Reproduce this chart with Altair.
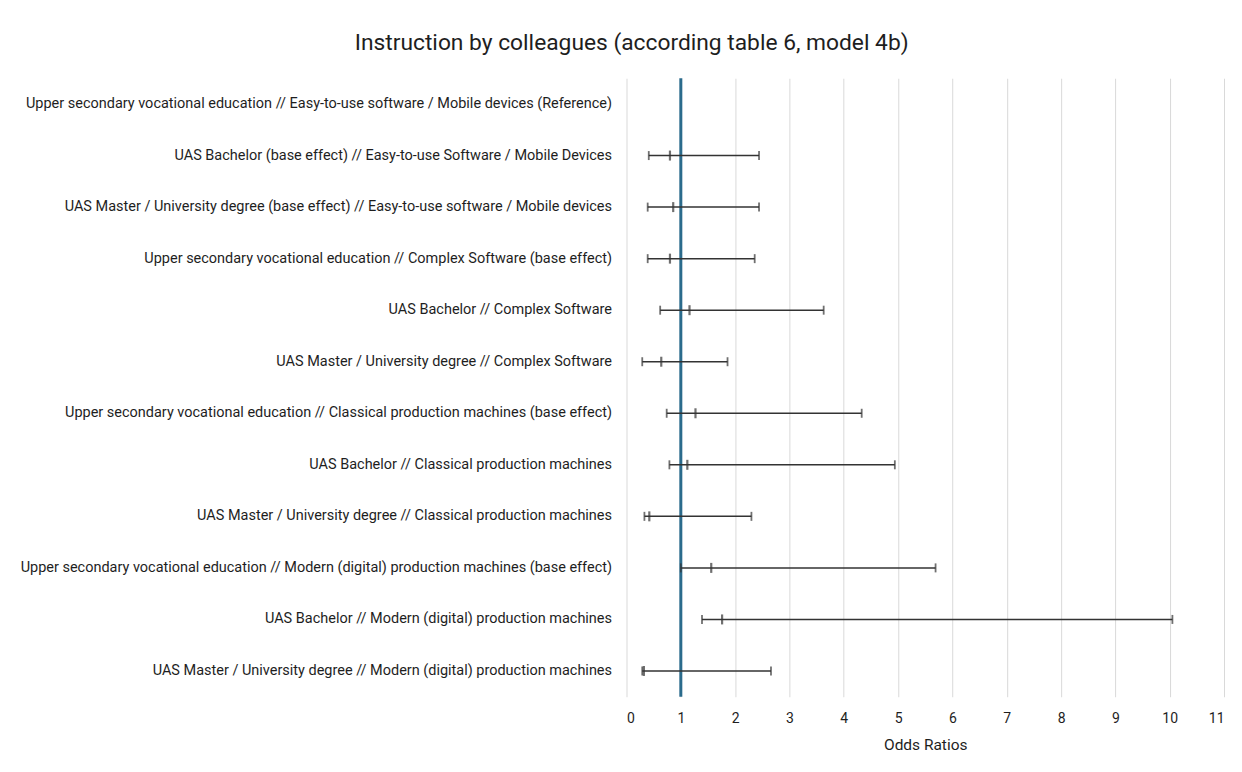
import altair as alt
import pandas as pd

categories = [
    "Upper secondary vocational education // Easy-to-use software / Mobile devices (Reference)",
    "UAS Bachelor (base effect) // Easy-to-use Software / Mobile Devices",
    "UAS Master / University degree (base effect) // Easy-to-use software / Mobile devices",
    "Upper secondary vocational education // Complex Software (base effect)",
    "UAS Bachelor // Complex Software",
    "UAS Master / University degree // Complex Software",
    "Upper secondary vocational education // Classical production machines (base effect)",
    "UAS Bachelor // Classical production machines",
    "UAS Master / University degree // Classical production machines",
    "Upper secondary vocational education // Modern (digital) production machines (base effect)",
    "UAS Bachelor // Modern (digital) production machines",
    "UAS Master / University degree // Modern (digital) production machines",
]
odds_ratio = [None, 0.80, 0.86, 0.80, 1.16, 0.64, 1.27, 1.12, 0.42, 1.56, 1.76, 0.32]
ci_low = [None, 0.41, 0.39, 0.39, 0.62, 0.29, 0.74, 0.79, 0.33, 1.00, 1.39, 0.29]
ci_high = [None, 2.44, 2.44, 2.36, 3.63, 1.86, 4.33, 4.94, 2.30, 5.69, 10.05, 2.66]
x_ticks = list(range(0, 12))
reference_value = [1]

df = pd.DataFrame({"cat": categories, "or": odds_ratio, "lo": ci_low, "hi": ci_high})
ref_df = pd.DataFrame({"ref": reference_value})

FONT = "Roboto"
BAR = "#333333"
TXT = "#1e1e1e"

y_enc = alt.Y("cat:N", sort=categories, title=None,
              scale=alt.Scale(paddingInner=0, paddingOuter=0),
              axis=alt.Axis(labelFontSize=14.5, labelLimit=800, labelPadding=15,
                            ticks=False, domain=False, grid=False,
                            labelColor=TXT, labelFont=FONT))
x_scale = alt.Scale(domain=[0, 11], nice=False, zero=False)
x_axis = alt.Axis(values=x_ticks, title="Odds Ratios", grid=True, gridColor="#d9d9d9",
                  gridWidth=1, ticks=False, domain=False, labelFontSize=14,
                  labelPadding=15, titleFontSize=15.5, titlePadding=12,
                  labelColor=TXT, titleColor=TXT, labelFont=FONT,
                  titleFont=FONT, titleFontWeight="normal")

base = alt.Chart(df)

grid_layer = base.mark_point(opacity=0).encode(
    x=alt.X("or:Q", scale=x_scale, axis=x_axis), y=y_enc)

bars = base.mark_rule(color=BAR, strokeWidth=1.5).encode(
    x=alt.X("lo:Q", scale=x_scale), x2="hi:Q", y=y_enc)

caps_lo = base.mark_tick(color=BAR, thickness=1.8, size=9, orient="vertical").encode(
    x=alt.X("lo:Q", scale=x_scale), y=y_enc)
caps_hi = base.mark_tick(color=BAR, thickness=1.8, size=9, orient="vertical").encode(
    x=alt.X("hi:Q", scale=x_scale), y=y_enc)
est = base.mark_tick(color=BAR, thickness=2.2, size=10, orient="vertical").encode(
    x=alt.X("or:Q", scale=x_scale), y=y_enc)

ref = alt.Chart(ref_df).mark_rule(color="#2b6b8c", strokeWidth=3).encode(
    x=alt.X("ref:Q", scale=x_scale))

chart = alt.layer(grid_layer, ref, bars, caps_lo, caps_hi, est).properties(
    width=598, height=619,
    background="white",
    title=alt.TitleParams("Instruction by colleagues (according table 6, model 4b)",
                          fontSize=22.8, font=FONT, fontWeight="normal", color=TXT,
                          anchor="middle", frame="bounds", offset=22, dx=10),
    autosize=alt.AutoSizeParams(type="none"),
    padding={"left": 619, "top": 70, "right": 10, "bottom": 60},
).configure_view(stroke=None)

chart.save("out.html", embed_options={"renderer": "svg", "actions": False})
